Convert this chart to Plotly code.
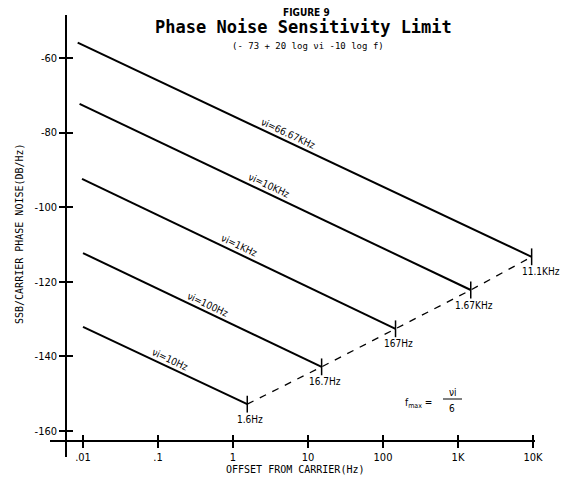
import numpy as np
import plotly.graph_objects as go

# ---- data ----
nu_labels = ["νi=66.67KHz", "νi=10KHz", "νi=1KHz", "νi=100Hz", "νi=10Hz"]
f_start = [0.0085, 0.009, 0.0097, 0.01, 0.01]
f_end = [9600, 1480, 147, 15.2, 1.55]
pn_start = [-55.9, -72.3, -92.4, -112.3, -132.1]
pn_end = [-113.3, -122.2, -132.6, -142.8, -152.8]
fmax_labels = ["11.1KHz", "1.67KHz", "167Hz", "16.7Hz", "1.6Hz"]
label_f = [4.93, 2.75, 1.1, 0.42, 0.132]
x_tickvals = [0.01, 0.1, 1, 10, 100, 1000, 10000]
x_ticktext = [".01", ".1", "1", "10", "100", "1K", "10K"]
y_tickvals = [-60, -80, -100, -120, -140, -160]
y_ticktext = ["-60", "-80", "-100", "-120", "-140", "-160"]

W, H = 571, 481
OFF = 8  # page body margin
ML, MT = 50 - OFF, 15 - OFF
MR, MB = W - (535 - OFF), H - (457 - OFF)
pw, ph = W - ML - MR, H - MT - MB
XR = [-2.44, 4.027]
YR = [-166.97, -48.47]

def px(x):
    return (x - OFF - ML) / pw

def py(y):
    return (H - MB - (y - OFF)) / ph

fig = go.Figure()

for i in range(len(nu_labels)):
    fig.add_trace(go.Scatter(x=[f_start[i], f_end[i]], y=[pn_start[i], pn_end[i]],
                             mode="lines", line=dict(color="black", width=2),
                             showlegend=False, hoverinfo="skip"))

fig.add_trace(go.Scatter(x=f_end[::-1], y=pn_end[::-1], mode="lines",
                         line=dict(color="black", width=1.3, dash="7px,7px"),
                         showlegend=False, hoverinfo="skip"))
fig.add_trace(go.Scatter(x=f_end, y=pn_end, mode="markers",
                         marker=dict(symbol="line-ns", size=12, color="black",
                                     line=dict(width=1.5, color="black")),
                         showlegend=False, hoverinfo="skip"))
# overlay axes for the cross-shaped ticks
fig.add_trace(go.Scatter(x=[f_end[0]], y=[pn_end[0]], xaxis="x2", yaxis="y2",
                         mode="markers", marker=dict(opacity=0),
                         showlegend=False, hoverinfo="skip"))

lab_font = dict(family="DejaVu Sans Condensed", size=10, color="black")
for i in range(len(nu_labels)):
    lf = np.log10(label_f[i])
    ls, le = np.log10(f_start[i]), np.log10(f_end[i])
    yv = pn_start[i] + (lf - ls) / (le - ls) * (pn_end[i] - pn_start[i])
    fig.add_annotation(x=lf, y=yv, text=nu_labels[i], showarrow=False,
                       xanchor="center", yanchor="middle",
                       textangle=25, xshift=3, yshift=7, font=lab_font)
    fig.add_annotation(x=np.log10(f_end[i]), y=pn_end[i], text=fmax_labels[i],
                       showarrow=False, xanchor="center", yanchor="middle",
                       xshift=9 if i == 0 else 3, yshift=-15,
                       font=dict(family="DejaVu Sans Condensed", size=10, color="black"))

def note(x, y, text, font, angle=0):
    fig.add_annotation(xref="paper", yref="paper", x=px(x), y=py(y), text=text,
                       showarrow=False, xanchor="center", yanchor="middle",
                       textangle=angle, font=font)

note(418, 403, "f<sub>max</sub> =", lab_font)
note(453, 392, "νi", lab_font)
note(452, 408, "6", lab_font)
fig.add_shape(type="line", xref="paper", yref="paper", x0=px(443), x1=px(462),
              y0=py(399), y1=py(399), line=dict(color="black", width=1))

mono = "DejaVu Sans Mono"
note(306, 12, "<b>FIGURE 9</b>", dict(family="DejaVu Sans Condensed", size=10, color="black"))
note(303, 27, "<b>Phase Noise Sensitivity Limit</b>", dict(family=mono, size=17, color="black"))
note(308, 46, "(- 73 + 20 log νi -10 log f)", dict(family=mono, size=9, color="black"))
note(19, 234, "SSB/CARRIER PHASE NOISE(DB/Hz)", dict(family=mono, size=10, color="black"), angle=-90)
note(295, 470, "OFFSET FROM CARRIER(Hz)", dict(family=mono, size=10, color="black"))

tick_font = dict(family="DejaVu Sans Condensed", size=11, color="black")
common_x = dict(type="log", range=XR, tickvals=x_tickvals, anchor="free",
                position=py(441), showgrid=False, zeroline=False, ticklen=6,
                tickwidth=1.5, tickcolor="black")
common_y = dict(range=YR, tickvals=y_tickvals, anchor="free", position=px(66),
                showgrid=False, zeroline=False, ticklen=6, tickwidth=1.5, tickcolor="black")
fig.update_layout(
    width=W, height=H, margin=dict(l=ML, r=MR, t=MT, b=MB),
    paper_bgcolor="white", plot_bgcolor="white", showlegend=False,
    xaxis=dict(**common_x, ticks="outside", ticktext=x_ticktext, showline=True,
               linecolor="black", linewidth=1.5, tickfont=tick_font),
    yaxis=dict(**common_y, ticks="outside", ticktext=y_ticktext, showline=True,
               linecolor="black", linewidth=1.5, tickfont=tick_font),
    xaxis2=dict(**common_x, overlaying="x", ticks="inside", showline=False,
                showticklabels=False),
    yaxis2=dict(**common_y, overlaying="y", ticks="inside", showline=False,
                showticklabels=False),
)

fig.write_html("out.html")
